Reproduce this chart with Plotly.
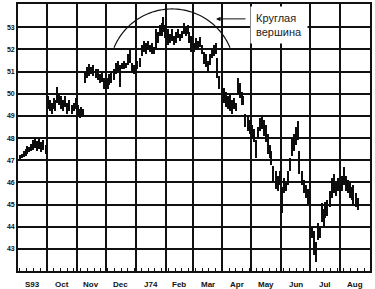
import math
import pandas as pd
import plotly.graph_objects as go

# ---- data ----
dates = [
    "1973-09-03", "1973-09-05", "1973-09-07", "1973-09-09", "1973-09-11", "1973-09-13", "1973-09-15",
    "1973-09-17", "1973-09-19", "1973-09-21", "1973-09-23", "1973-09-25", "1973-09-27", "1973-09-30",
    "1973-10-02", "1973-10-04", "1973-10-06", "1973-10-08", "1973-10-10", "1973-10-12", "1973-10-14",
    "1973-10-16", "1973-10-18", "1973-10-20", "1973-10-22", "1973-10-24", "1973-10-27", "1973-10-29",
    "1973-10-31", "1973-11-02", "1973-11-04", "1973-11-06", "1973-11-08", "1973-11-10", "1973-11-12",
    "1973-11-14", "1973-11-16", "1973-11-18", "1973-11-21", "1973-11-23", "1973-11-25", "1973-11-27",
    "1973-11-29", "1973-12-01", "1973-12-03", "1973-12-05", "1973-12-07", "1973-12-10", "1973-12-12",
    "1973-12-14", "1973-12-16", "1973-12-18", "1973-12-20", "1973-12-22", "1973-12-24", "1973-12-26",
    "1973-12-28", "1973-12-30", "1974-01-01", "1974-01-03", "1974-01-06", "1974-01-08", "1974-01-10",
    "1974-01-12", "1974-01-14", "1974-01-16", "1974-01-18", "1974-01-20", "1974-01-22", "1974-01-24",
    "1974-01-26", "1974-01-28", "1974-01-30", "1974-02-01", "1974-02-04", "1974-02-06", "1974-02-08",
    "1974-02-10", "1974-02-12", "1974-02-14", "1974-02-16", "1974-02-18", "1974-02-20", "1974-02-22",
    "1974-02-24", "1974-02-26", "1974-02-28", "1974-03-03", "1974-03-05", "1974-03-07", "1974-03-09",
    "1974-03-11", "1974-03-13", "1974-03-15", "1974-03-17", "1974-03-19", "1974-03-21", "1974-03-23",
    "1974-03-25", "1974-03-27", "1974-03-29", "1974-04-01", "1974-04-03", "1974-04-05", "1974-04-07",
    "1974-04-09", "1974-04-11", "1974-04-13", "1974-04-15", "1974-04-17", "1974-04-19", "1974-04-21",
    "1974-04-23", "1974-04-25", "1974-04-28", "1974-04-30", "1974-05-02", "1974-05-04", "1974-05-06",
    "1974-05-08", "1974-05-10", "1974-05-12", "1974-05-14", "1974-05-16", "1974-05-18", "1974-05-20",
    "1974-05-22", "1974-05-24", "1974-05-27", "1974-05-29", "1974-05-31", "1974-06-02", "1974-06-04",
    "1974-06-06", "1974-06-08", "1974-06-10", "1974-06-12", "1974-06-14", "1974-06-16", "1974-06-18",
    "1974-06-20", "1974-06-23", "1974-06-25", "1974-06-27", "1974-06-29", "1974-07-01", "1974-07-03",
    "1974-07-05", "1974-07-07", "1974-07-09", "1974-07-11", "1974-07-13", "1974-07-15", "1974-07-17",
    "1974-07-19", "1974-07-22", "1974-07-24", "1974-07-26", "1974-07-28", "1974-07-30", "1974-08-01",
    "1974-08-03", "1974-08-05", "1974-08-07", "1974-08-09", "1974-08-11", "1974-08-13", "1974-08-15",
    "1974-08-18", "1974-08-20",
]

highs = [
    47.25, 47.3, 47.4, 47.5, 47.65, 47.6, 47.75, 47.9, 48.0, 47.85, 47.95, 47.8, 47.9, 47.7,
    49.9, 49.7, 49.6, 49.8, 49.7, 50.3, 50.0, 49.9, 49.7, 49.9, 49.6, 49.7, 49.5, 49.6, 49.8,
    49.5, 49.3, 49.4, 49.3, 51.0, 51.2, 51.35, 51.2, 51.3, 51.1, 51.1, 50.9, 50.95, 50.7, 50.6,
    50.7, 50.9, 51.0, 51.1, 51.4, 51.5, 51.3, 51.4, 51.5, 51.4, 51.8, 52.0, 51.4, 51.3, 51.2,
    51.5, 51.6, 52.2, 52.4, 52.3, 52.4, 52.2, 52.3, 52.1, 52.9, 52.8, 53.1, 53.2, 53.45,
    53.1, 52.9, 52.7, 52.9, 52.6, 52.8, 52.9, 52.7, 52.85, 53.2, 53.0, 53.1, 52.8,
    52.6, 52.3, 52.5, 52.4, 52.55, 52.2, 51.9, 51.8, 51.5, 51.8, 52.0, 52.2, 52.3, 51.6, 50.8, 50.6,
    50.25, 50.1, 49.9, 50.0, 49.7, 49.8, 49.6, 50.7, 50.5, 50.1, 49.9, 49.1, 49.0, 48.8,
    48.6, 48.4, 47.9, 48.5, 48.9, 49.0, 48.8, 48.6, 48.2, 47.7, 47.4, 46.75, 46.5, 46.3, 46.5, 45.8,
    46.2, 46.0, 46.5, 47.1, 48.0, 48.2, 48.5, 48.75, 47.4, 46.5, 46.1, 45.9, 45.7, 45.6,
    44.0, 43.8, 43.3, 44.15, 44.0, 45.05, 44.8, 45.1, 45.2, 45.6, 46.2, 46.4, 46.0, 46.2,
    45.9, 46.3, 46.7, 46.3, 46.1, 46.0, 45.8, 45.9, 45.5, 45.3,
]

lows = [
    47.05, 47.1, 47.15, 47.2, 47.3, 47.35, 47.4, 47.45, 47.55, 47.4, 47.5, 47.35, 47.45, 47.3,
    49.3, 49.2, 49.1, 49.3, 49.2, 49.6, 49.5, 49.3, 49.2, 49.4, 49.1, 49.2, 49.1, 49.2, 49.3,
    49.0, 48.9, 49.0, 49.0, 50.5, 50.7, 50.8, 50.9, 50.8, 50.7, 50.6, 50.5, 50.55, 50.2, 50.1,
    50.2, 50.4, 50.5, 50.6, 50.9, 51.0, 50.3, 51.1, 51.1, 51.15, 51.3, 51.4, 51.0, 50.9, 50.9,
    51.1, 51.2, 51.7, 51.9, 51.8, 52.0, 51.9, 51.8, 51.8, 52.0, 52.3, 52.6, 52.6, 52.8,
    52.5, 52.2, 52.3, 52.4, 52.2, 52.3, 52.5, 52.4, 52.5, 52.7, 52.6, 52.7, 52.3,
    51.9, 51.9, 52.0, 52.0, 52.1, 51.8, 51.35, 51.2, 51.0, 51.3, 51.6, 51.7, 51.8, 50.7, 50.2, 50.1,
    49.6, 49.4, 49.3, 49.2, 49.1, 49.3, 49.2, 50.0, 49.8, 49.5, 49.5, 48.5, 48.3, 48.2,
    48.0, 47.8, 47.1, 48.0, 48.3, 48.4, 48.1, 47.8, 47.3, 47.1, 46.8, 46.0, 45.7, 45.6, 45.9, 44.6,
    45.5, 45.6, 45.9, 46.5, 47.2, 47.4, 47.7, 47.9, 46.4, 45.9, 45.5, 45.3, 45.0, 44.9,
    43.5, 42.7, 42.4, 43.4, 43.5, 44.2, 44.0, 44.4, 44.5, 44.9, 45.3, 45.5, 45.4, 45.6,
    45.5, 45.6, 45.9, 45.6, 45.5, 45.3, 45.2, 45.0, 44.9, 44.75,
]

month_starts = ["1973-09-01", "1973-10-01", "1973-11-01", "1973-12-01", "1974-01-01", "1974-02-01",
                "1974-03-01", "1974-04-01", "1974-05-01", "1974-06-01", "1974-07-01", "1974-08-01",
                "1974-09-01"]
month_labels = ["S93", "Oct", "Nov", "Dec", "J74", "Feb", "Mar", "Apr", "May", "Jun", "Jul", "Aug"]
y_ticks = [43, 44, 45, 46, 47, 48, 49, 50, 51, 52, 53]

# ---- figure ----
W, H = 375, 289
ML, MR, MT, MB = 18, 5, 2, 18
PW, PH = W - ML - MR, H - MT - MB
LABEL_FONT = dict(family="Liberation Sans, Arial", size=8, color="#111", weight="bold")

x = pd.to_datetime(dates)
spans = [h - l for h, l in zip(highs, lows)]

fig = go.Figure()
fig.add_trace(go.Bar(
    x=x, y=spans, base=lows,
    width=1.4 * 86400000,
    marker=dict(color="#0d0d0d", line=dict(width=0)),
    hoverinfo="skip",
))

# month labels centred in each month
ms = pd.to_datetime(month_starts)
for i, lab in enumerate(month_labels):
    mid = ms[i] + (ms[i + 1] - ms[i]) / 2
    fig.add_annotation(x=mid, xref="x", y=-0.025, yref="paper", yanchor="top",
                       text=lab, showarrow=False, font=LABEL_FONT)

# rounded-top arc (pixel geometry -> paper coordinates)
def to_paper(px, py):
    return (px - ML) / PW, (H - MB - py) / PH

cx, cy, r = 172.0, 69.6, 62.6
a0 = math.acos((114 - cx) / r)
a1 = math.acos((230 - cx) / r)
pts = []
n = 60
for k in range(n + 1):
    a = a0 + (a1 - a0) * k / n
    px = cx + r * math.cos(a)
    py = cy - r * math.sin(a)
    pts.append(to_paper(px, py))
path = "M " + " L ".join(f"{p[0]:.4f},{p[1]:.4f}" for p in pts)
fig.add_shape(type="path", path=path, xref="paper", yref="paper",
              line=dict(color="#111", width=1.2))

# label box + arrow
bx, by = to_paper(250, 4)
fig.add_annotation(x=bx, y=by, xref="paper", yref="paper", xanchor="left", yanchor="top",
                   text="Круглая<br>вершина", align="left", showarrow=False,
                   bgcolor="white", borderpad=5,
                   font=dict(family="Liberation Sans, Arial", size=11, color="#222"))
hx, hy = to_paper(216, 17)
fig.add_annotation(x=hx, y=hy, xref="paper", yref="paper", text="",
                   showarrow=True, ax=31, ay=0, arrowhead=2, arrowsize=0.9,
                   arrowwidth=1, arrowcolor="#111")

fig.update_layout(
    width=W, height=H,
    margin=dict(l=ML, r=MR, t=MT, b=MB),
    paper_bgcolor="white", plot_bgcolor="white",
    showlegend=False, bargap=0,
)
fig.update_xaxes(
    type="date", range=["1973-09-01", "1974-09-01"],
    tickmode="array", tickvals=month_starts, showticklabels=False, ticks="",
    showgrid=True, gridcolor="#111", gridwidth=1.6,
    showline=True, linecolor="#111", linewidth=1.8, mirror=True,
    minor=dict(ticks="inside", ticklen=3, tickcolor="#111", tickwidth=1,
               dtick=7 * 86400000, tick0="1973-09-03", showgrid=False),
)
fig.update_yaxes(
    range=[42.0, 54.05], tickmode="array", tickvals=y_ticks,
    ticktext=[str(v) for v in y_ticks], ticks="",
    tickfont=dict(family="Liberation Sans, Arial", size=7, color="#111", weight="bold"),
    showgrid=True, gridcolor="#111", gridwidth=1.6, zeroline=False,
    showline=True, linecolor="#111", linewidth=1.8, mirror=True,
)

fig.write_html("out.html")
